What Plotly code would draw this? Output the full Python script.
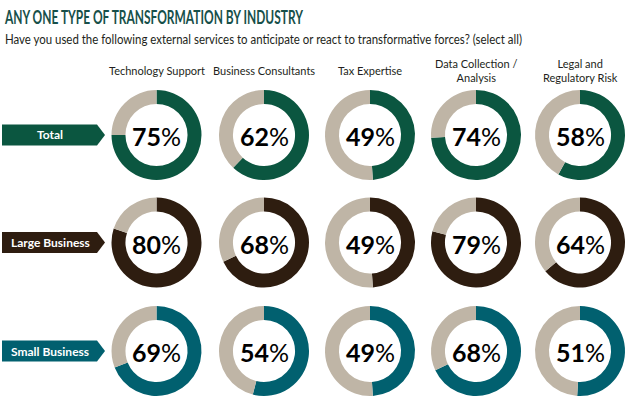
import plotly.graph_objects as go

W, H = 631, 408

categories = ["Technology Support", "Business Consultants", "Tax Expertise",
              "Data Collection /<br>Analysis", "Legal and<br>Regulatory Risk"]
groups = ["Total", "Large Business", "Small Business"]
total_vals = [75, 62, 49, 74, 58]
large_vals = [80, 68, 49, 79, 64]
small_vals = [69, 54, 49, 68, 51]
series = [total_vals, large_vals, small_vals]
group_colors = ["#0b5640", "#2e1d10", "#01606f"]
rest_color = "#bfb5a6"

title = "ANY ONE TYPE OF TRANSFORMATION BY INDUSTRY"
subtitle = "Have you used the following external services to anticipate or react to transformative forces? (select all)"

col_x = [156.5, 264, 370, 476, 580]
row_y = [135, 242.5, 351]
R = 45
TITLE_LEN, SUB_LEN = 298, 517

def px(x):
    return x / W

def py(y):
    return 1 - y / H

fig = go.Figure()
annotations = []
shapes = []

# title + subtitle first (indices 0, 1); centred so compression keeps left edge at x=5
annotations.append(dict(
    x=px(5 + TITLE_LEN / 2), y=py(17), xref="paper", yref="paper", text=f"<b>{title}</b>",
    showarrow=False, xanchor="center", yanchor="middle",
    font=dict(family="Lato, DejaVu Sans", size=19, color="#17504a"),
))
annotations.append(dict(
    x=px(5 + SUB_LEN / 2), y=py(40), xref="paper", yref="paper", text=subtitle,
    showarrow=False, xanchor="center", yanchor="middle",
    font=dict(family="Lato, DejaVu Sans", size=12.5, color="#231f20"),
))

for r, (grp, vals, col) in enumerate(zip(groups, series, group_colors)):
    cy = row_y[r]
    for c, v in enumerate(vals):
        cx = col_x[c]
        fig.add_trace(go.Pie(
            values=[v, 100 - v],
            labels=["Yes", "No"],
            marker=dict(colors=[col, rest_color], line=dict(width=0)),
            hole=0.69, sort=False, direction="clockwise", rotation=0,
            textinfo="none", hoverinfo="skip", showlegend=False,
            domain=dict(x=[px(cx - R), px(cx + R)], y=[py(cy + R), py(cy - R)]),
        ))
        annotations.append(dict(
            x=px(cx), y=py(cy + 1), xref="paper", yref="paper",
            text=f"<b>{v}</b>%", showarrow=False,
            font=dict(family="Lato, DejaVu Sans", size=25, color="#000"),
            xanchor="center", yanchor="middle",
        ))
    top, bot = cy - 10.5, cy + 10.5
    path = (f"M {px(2)} {py(top)} L {px(97)} {py(top)} L {px(105)} {py(cy)} "
            f"L {px(97)} {py(bot)} L {px(2)} {py(bot)} Z")
    shapes.append(dict(type="path", path=path, xref="paper", yref="paper",
                       fillcolor=col, line=dict(width=0)))
    annotations.append(dict(
        x=px(50), y=py(cy), xref="paper", yref="paper",
        text=f"<b>{grp}</b>", showarrow=False,
        font=dict(family="Lato, DejaVu Sans", size=12, color="white"),
        xanchor="center", yanchor="middle",
    ))

for c, cat in enumerate(categories):
    annotations.append(dict(
        x=px(col_x[c]), y=py(70), xref="paper", yref="paper",
        text=cat, showarrow=False,
        font=dict(family="Lato, DejaVu Sans", size=11, color="#231f20"),
        xanchor="center", yanchor="middle",
    ))

fig.update_layout(
    width=W, height=H,
    margin=dict(l=0, r=0, t=0, b=0),
    paper_bgcolor="white", plot_bgcolor="white",
    annotations=annotations, shapes=shapes,
)

post = """
document.body.style.margin = '0';
document.body.style.padding = '0';
var gd = document.getElementById('{plot_id}');
function fixText() {
  var lens = {'0': %d, '1': %d};
  gd.querySelectorAll('g.annotation').forEach(function(g) {
    var i = g.getAttribute('data-index');
    if (lens[i] !== undefined) {
      var t = g.querySelector('text.annotation-text');
      if (t) {
        t.setAttribute('textLength', lens[i]);
        t.setAttribute('lengthAdjust', 'spacingAndGlyphs');
      }
    }
  });
}
fixText();
if (gd.on) { gd.on('plotly_afterplot', fixText); }
""" % (TITLE_LEN, SUB_LEN)

fig.write_html("out.html", post_script=post, config={"displayModeBar": False})
